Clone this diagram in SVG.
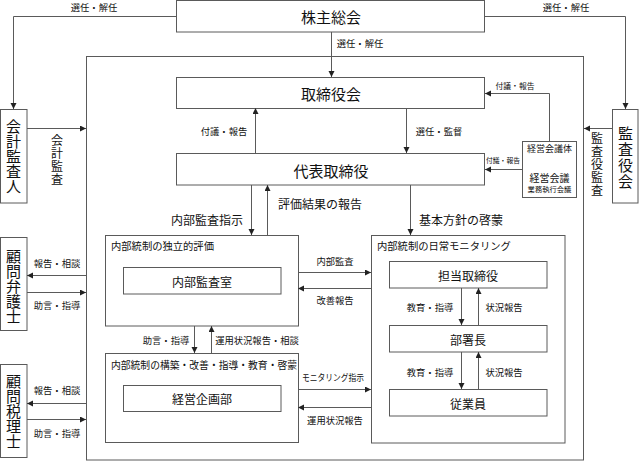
<svg xmlns="http://www.w3.org/2000/svg" width="639" height="462" viewBox="0 0 639 462">
<defs>
<marker id="ah" markerUnits="userSpaceOnUse" markerWidth="8" markerHeight="8" refX="6" refY="3" orient="auto">
<path d="M0,0 L6,3 L0,6 Z" fill="#222"/>
</marker>
<style>
.box{fill:#fff;stroke:#5a5a5a;stroke-width:1}
.frame{fill:none;stroke:#5a5a5a;stroke-width:1}
.ln{fill:none;stroke:#5a5a5a;stroke-width:1;marker-end:url(#ah)}
text{font-family:"Noto Sans CJK JP","Noto Sans CJK SC",sans-serif;fill:#111;dominant-baseline:central}
.big{font-size:15px;text-anchor:middle}
.mid{font-size:12px;text-anchor:middle}
.sm{font-size:9.3px;text-anchor:middle}
.ttl{font-size:10.3px}
.vt{font-size:15px;text-anchor:middle;writing-mode:vertical-rl}
.vm{font-size:12px;text-anchor:middle;writing-mode:vertical-rl;letter-spacing:1px}
</style>
</defs>
<rect width="639" height="462" fill="#fff"/>

<g id="outer"><rect class="frame" x="86.5" y="56.5" width="497" height="403.5"/></g>

<g id="kabunushi"><rect class="box" x="176.5" y="0.5" width="308" height="31.5"/><text class="big" x="331" y="16.5">株主総会</text></g>
<g id="torishimariyakukai"><rect class="box" x="176.5" y="77.5" width="308" height="31"/><text class="big" x="331" y="93">取締役会</text></g>
<g id="daihyo"><rect class="box" x="176.5" y="153.5" width="308" height="31.5"/><text class="big" x="331" y="170">代表取締役</text></g>
<g id="keiei-kaigi"><rect class="box" x="522.5" y="141.5" width="54" height="56"/>
<text style="font-size:9px;text-anchor:middle" x="549.5" y="148">経営会議体</text>
<text style="font-size:10px;text-anchor:middle" x="549.5" y="177">経営会議</text>
<text style="font-size:7.3px;text-anchor:middle" x="549.5" y="189">業務執行会議</text></g>
<g id="kansayakukai"><rect class="box" x="612.5" y="109.5" width="25.5" height="93.5"/>
<text class="vt" x="625.5" y="158" style="letter-spacing:1px">監査役会</text></g>
<g id="kaikei"><rect class="box" x="0.5" y="109.5" width="26.5" height="93.5"/>
<text class="vt" x="13.5" y="156">会計監査人</text></g>
<g id="bengoshi"><rect class="box" x="0.5" y="237.5" width="26.5" height="93"/>
<text class="vt" x="13.5" y="286">顧問弁護士</text></g>
<g id="zeirishi"><rect class="box" x="0.5" y="364.5" width="26.5" height="93"/>
<text class="vt" x="13.5" y="411.5">顧問税理士</text></g>

<g id="dokuritsu"><rect class="frame" x="105.5" y="235.5" width="193" height="90.5"/>
<text class="ttl" x="111" y="245">内部統制の独立的評価</text></g>
<g id="naibukansa"><rect class="box" x="123.5" y="267.5" width="157.5" height="26.5"/>
<text class="mid" x="202" y="281">内部監査室</text></g>
<g id="kouchiku"><rect class="frame" x="105.5" y="353.5" width="193" height="89"/>
<text class="ttl" x="111" y="364" textLength="186" lengthAdjust="spacingAndGlyphs">内部統制の構築・改善・指導・教育・啓蒙</text></g>
<g id="keieikikaku"><rect class="box" x="123.5" y="385.5" width="157.5" height="26"/>
<text class="mid" x="202" y="398.5">経営企画部</text></g>
<g id="nichijo"><rect class="frame" x="371.5" y="235.5" width="193.5" height="207.5"/>
<text class="ttl" x="377" y="245">内部統制の日常モニタリング</text></g>
<g id="tanto"><rect class="box" x="389.5" y="261.5" width="157.5" height="26.5"/><text class="mid" x="468" y="275">担当取締役</text></g>
<g id="bushocho"><rect class="box" x="389.5" y="325.5" width="157.5" height="26.5"/><text class="mid" x="468" y="339">部署長</text></g>
<g id="jugyoin"><rect class="box" x="389.5" y="389.5" width="157.5" height="26.5"/><text class="mid" x="468" y="403">従業員</text></g>

<g id="connectors">
<path class="ln" d="M176,16.5 H13.5 V109"/>
<path class="ln" d="M485,16.5 H625.5 V109"/>
<path class="ln" d="M331.5,32 V77"/>
<path class="ln" d="M255.5,153 V108"/>
<path class="ln" d="M406.5,108 V153"/>
<path class="ln" d="M549.5,141 V93.5 H485"/>
<path class="ln" d="M522,169.5 H485"/>
<path class="ln" d="M612,128.5 H584"/>
<path class="ln" d="M27,128.5 H86"/>
<path class="ln" d="M251.5,185 V235"/>
<path class="ln" d="M267.5,235 V185"/>
<path class="ln" d="M410.5,185 V235"/>
<path class="ln" d="M86,275.5 H27"/>
<path class="ln" d="M27,292.5 H86"/>
<path class="ln" d="M86,403.5 H27"/>
<path class="ln" d="M27,419.5 H86"/>
<path class="ln" d="M298,272.5 H371"/>
<path class="ln" d="M371,288.5 H298"/>
<path class="ln" d="M194.5,326 V353"/>
<path class="ln" d="M211.5,353 V326"/>
<path class="ln" d="M298,389.5 H371"/>
<path class="ln" d="M371,407.5 H298"/>
<path class="ln" d="M461.5,288 V325"/>
<path class="ln" d="M478.5,325 V288"/>
<path class="ln" d="M461.5,352 V389"/>
<path class="ln" d="M478.5,389 V352"/>
</g>

<g id="labels">
<text class="sm" x="94" y="7">選任・解任</text>
<text class="sm" x="566" y="7">選任・解任</text>
<text class="sm" x="360" y="43">選任・解任</text>
<text class="sm" x="224" y="131">付議・報告</text>
<text class="sm" x="439" y="131">選任・監督</text>
<text style="font-size:7.8px;text-anchor:middle" x="515" y="85">付議・報告</text>
<text style="font-size:6.8px;text-anchor:middle" x="503" y="160">付議・報告</text>
<text class="mid" x="207" y="219">内部監査指示</text>
<text class="mid" x="320" y="203">評価結果の報告</text>
<text class="mid" x="461" y="219">基本方針の啓蒙</text>
<text class="sm" x="57" y="263">報告・相談</text>
<text class="sm" x="57" y="305">助言・指導</text>
<text class="sm" x="57" y="390">報告・相談</text>
<text class="sm" x="57" y="433">助言・指導</text>
<text class="sm" x="335" y="261">内部監査</text>
<text class="sm" x="335" y="300">改善報告</text>
<text class="sm" x="333" y="377" textLength="62" lengthAdjust="spacingAndGlyphs">モニタリング指示</text>
<text class="sm" x="335" y="420">運用状況報告</text>
<text class="sm" x="166" y="340">助言・指導</text>
<text class="sm" x="257" y="340">運用状況報告・相談</text>
<text class="sm" x="430" y="307">教育・指導</text>
<text class="sm" x="504" y="307">状況報告</text>
<text class="sm" x="430" y="372">教育・指導</text>
<text class="sm" x="504" y="372">状況報告</text>
<text class="vm" x="57" y="160">会計監査</text>
<text class="vm" x="597" y="165">監査役監査</text>
</g>
</svg>
